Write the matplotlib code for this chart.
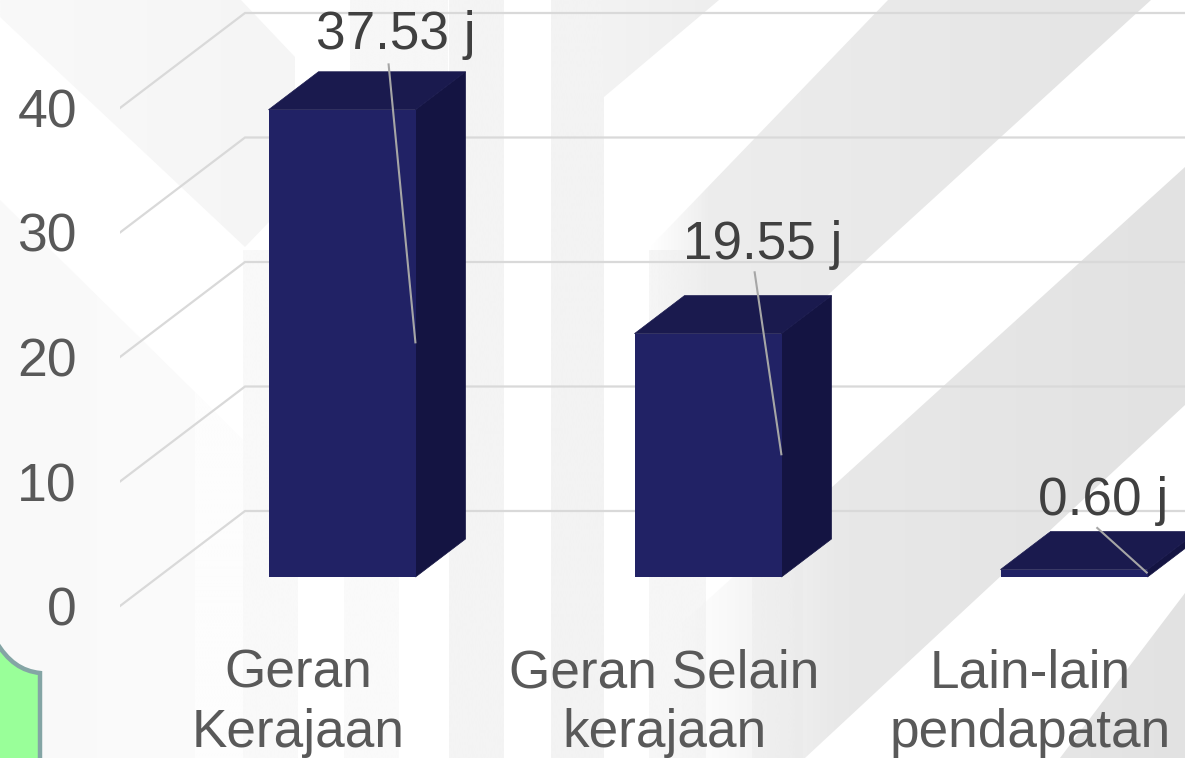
import numpy as np
import matplotlib
matplotlib.use('Agg')
import matplotlib.pyplot as plt
from matplotlib.colors import to_rgb
from matplotlib.patches import Polygon, PathPatch
from matplotlib.path import Path

categories = ['Geran\nKerajaan', 'Geran Selain\nkerajaan', 'Lain-lain\npendapatan']
values = [37.53, 19.55, 0.60]
value_labels = ['37.53 j', '19.55 j', '0.60 j']
y_ticks = [0, 10, 20, 30, 40]

plt.rcParams['font.family'] = ['Liberation Sans', 'DejaVu Sans']
W, H = 1185, 758
fig = plt.figure(figsize=(W / 100, H / 100), dpi=100, facecolor='white')

# decorative background, in pixel coordinates
bg = fig.add_axes([0, 0, 1, 1], zorder=0)
bg.set_xlim(0, W); bg.set_ylim(H, 0); bg.axis('off')

order = [1]
def band(pts, c0, c1=None, fade=0):
    """Polygon filled with a left-to-right gradient; fade = px over which it fades in from transparent."""
    c1 = c1 or c0
    xs = [p[0] for p in pts]; ys = [p[1] for p in pts]
    x0, x1 = min(xs), max(xs)
    n = 256
    t = np.linspace(0, 1, n)
    rgb = np.outer(1 - t, to_rgb(c0)) + np.outer(t, to_rgb(c1))
    alpha = np.clip((t * (x1 - x0)) / fade, 0, 1) if fade else np.ones(n)
    img = np.dstack([rgb[None, :, :], alpha[None, :, None]])
    order[0] += 1
    im = bg.imshow(img, extent=(x0, x1, max(ys), min(ys)), aspect='auto', zorder=order[0], interpolation='bilinear')
    p = Polygon(pts, closed=True, transform=bg.transData, fc='none', ec='none')
    bg.add_patch(p)
    im.set_clip_path(p)

# left soft panels
band([(0, 0), (241, 0), (295, 57), (295, 195), (245, 247), (0, 17)], '#f9f9f9', '#f5f5f5')
band([(0, 200), (195, 392), (195, 758), (0, 758)], '#f9f9f9', '#fbfbfb')
band([(195, 392), (243, 440), (243, 758), (195, 758)], '#fdfdfd')
# vertical stripes
band([(243, 250), (298, 250), (298, 758), (243, 758)], '#f9f9f9')
band([(344, 250), (399, 250), (399, 758), (344, 758)], '#fafafa')
band([(350, 0), (448, 0), (448, 90), (350, 90)], '#f7f7f7')
band([(449, 0), (504, 0), (504, 758), (449, 758)], '#f4f4f4')
band([(551, 0), (604, 0), (604, 758), (551, 758)], '#f3f3f3')
band([(602, 0), (719, 0), (604, 97)], '#f3f3f3', '#eeeeee')
band([(649, 250), (706, 250), (706, 758), (649, 758)], '#f6f6f6')
band([(752, 250), (803, 250), (803, 758), (752, 758)], '#f6f6f6')
# large diagonal bands
band([(650, 247), (888, 0), (1151, 0), (830, 293), (650, 457)], '#eeeeee', '#e4e4e4', fade=60)
band([(1185, 167), (1185, 405), (805, 758), (680, 758), (680, 625)], '#ebebeb', '#e2e2e2', fade=160)
band([(1185, 593), (1185, 758), (1060, 758)], '#e6e6e6', '#e2e2e2')

# rounded green panel in the lower-left corner
verts = [(-5, 640), (8, 662), (22, 671), (40, 673), (40, 765), (-5, 765), (-5, 640)]
codes = [Path.MOVETO, Path.CURVE4, Path.CURVE4, Path.CURVE4, Path.LINETO, Path.LINETO, Path.CLOSEPOLY]
bg.add_patch(PathPatch(Path(verts, codes), fc='#99ff99', ec='#84a5a5', lw=3.2, zorder=50))
bg.set_xlim(0, W); bg.set_ylim(H, 0)

# chart axes
left_px = 120
ax = fig.add_axes([left_px / W, 0, 1 - left_px / W, 1], zorder=1)
ax.patch.set_alpha(0)
px_per_unit = 12.45
zero_px = 606
px_per_cat = 366
bar_x0 = 342
ax.set_xlim((left_px - bar_x0) / px_per_cat, (W - bar_x0) / px_per_cat)
ax.set_ylim((zero_px - H) / px_per_unit, zero_px / px_per_unit)
for s in ax.spines.values():
    s.set_visible(False)
ax.set_xticks([])
ax.set_yticks(y_ticks)
ax.tick_params(axis='y', length=0, pad=31, labelsize=38.5, labelcolor='#595959')

cx = lambda px: px / px_per_cat
cy = lambda px: px / px_per_unit
wall_dx, wall_dy = cx(125), cy(95)
wall_x = (left_px - bar_x0) / px_per_cat
grid_c = '#d9d9d9'
for v in y_ticks:
    ax.plot([wall_x, wall_x + wall_dx, ax.get_xlim()[1]],
            [v, v + wall_dy, v + wall_dy], color=grid_c, lw=1.6, zorder=1, solid_joinstyle='miter')

bar_w = cx(147)
dep_x, dep_y = cx(50), cy(38)
base = cy(29)
xs = np.arange(len(values))
front_c, side_c, top_c = '#212265', '#141442', '#1a1a4e'
for x, v in zip(xs, values):
    l, r = x - bar_w / 2, x + bar_w / 2
    b, t = base, base + v
    ax.add_patch(Polygon([(r, b), (r + dep_x, b + dep_y), (r + dep_x, t + dep_y), (r, t)],
                         fc=side_c, ec=side_c, lw=0.5, zorder=3))
    ax.add_patch(Polygon([(l, t), (r, t), (r + dep_x, t + dep_y), (l + dep_x, t + dep_y)],
                         fc=top_c, ec=top_c, lw=0.5, zorder=3))
    ax.bar(x, v, width=bar_w, bottom=base, color=front_c, zorder=4)

# leaders and value labels (pixel offsets)
leader_off = [(-27, 280), (-27, 184), (-51, 46)]
text_off = [(7, 28), (8, 26), (7, 26)]
for x, v, lab, lo, to in zip(xs, values, value_labels, leader_off, text_off):
    ex, ey = x + bar_w / 2, base + v / 2
    sx, sy = ex + cx(lo[0]), ey + cy(lo[1])
    ax.plot([ex, sx], [ey, sy], color='#a6a6a6', lw=1.5, zorder=5, solid_capstyle='butt')
    ax.text(sx + cx(to[0]), sy + cy(to[1]), lab, ha='center', va='center', fontsize=38.25,
            color='#404040', zorder=6)

for x, c in zip(xs, categories):
    ax.text(x - cx(44), cy(zero_px - 703), c, ha='center', va='center', fontsize=38.25,
            color='#595959', linespacing=1.25, zorder=6)

fig.savefig('out.png', dpi=100)
